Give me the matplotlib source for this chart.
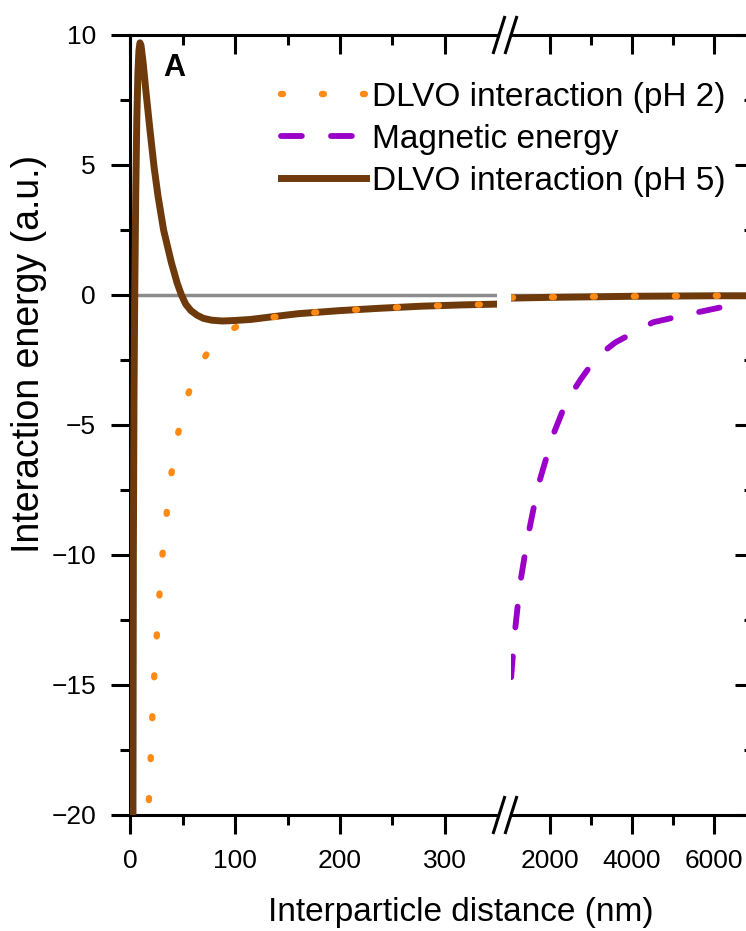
import matplotlib
matplotlib.use("Agg")
import matplotlib.pyplot as plt
from matplotlib.lines import Line2D
from matplotlib.ticker import FixedLocator

plt.rcParams['font.family'] = ['Liberation Sans', 'DejaVu Sans']
plt.rcParams['lines.scale_dashes'] = False

# ---- data -------------------------------------------------------------
# DLVO interaction at pH 5 (short-range segment, nm)
ph5_near_nm = [2.8, 3.2, 3.8, 4.5, 5.5, 6.5, 7.5, 8.5, 9.5, 10.5, 12.6, 15, 19,
               23, 26.7, 32, 39.5, 45, 49, 53, 58, 64, 70, 78, 88, 100, 115,
               135, 160, 200, 238, 278, 317, 350]
ph5_near_e = [-20.5, -10, -4, 0, 4, 6.8, 8.5, 9.4, 9.7, 9.6, 8.9, 7.9, 6.35,
              4.9, 3.8, 2.5, 1.23, 0.45, 0.0, -0.35, -0.6, -0.78, -0.9, -0.97,
              -1.0, -0.98, -0.94, -0.84, -0.72, -0.6, -0.51, -0.43, -0.38,
              -0.35]
# DLVO interaction at pH 2 (short-range segment, nm)
ph2_near_nm = [16.5, 17.5, 19, 20.6, 22.2, 24.4, 27, 29.5, 33.3, 37.5, 42.9,
               50.8, 63.5, 75, 84.1, 100, 115, 135, 160, 200, 238, 278, 317,
               350]
ph2_near_e = [-21.0, -19.9, -18.5, -16.9, -15.3, -13.75, -12.2, -10.6, -9.0,
              -7.43, -5.9, -4.36, -2.86, -2.15, -1.70, -1.25, -1.0, -0.86,
              -0.72, -0.6, -0.51, -0.43, -0.38, -0.35]
# long-range segment (nm)
far_nm = [1045, 2000, 3000, 4000, 5000, 6000, 7000]
ph5_far_e = [-0.12, -0.09, -0.07, -0.05, -0.04, -0.03, -0.03]
ph2_far_e = [-0.10, -0.08, -0.06, -0.05, -0.04, -0.03, -0.03]
# magnetic dipole energy (long-range segment)
mag_nm = [1049, 1130, 1268, 1456, 1715, 2080, 2400, 2748, 3150, 3602, 4520,
          5300, 5985, 6470]
mag_e = [-14.7, -13.1, -11.1, -9.3, -7.3, -5.36, -4.1, -3.25, -2.37, -1.82,
         -1.05, -0.77, -0.54, -0.38]

labels = ["DLVO interaction (pH 2)", "Magnetic energy", "DLVO interaction (pH 5)"]
xticks_near = [0, 100, 200, 300]
xticks_near_minor = [50, 150, 250]
xticks_far = [2000, 4000, 6000]
xticks_far_minor = [3000, 5000]
yticks = [-20, -15, -10, -5, 0, 5, 10]
yticks_minor = [-17.5, -12.5, -7.5, -2.5, 2.5, 7.5]

# ---- styling ------------------------------------------------------------
W, H = 746, 931
BROWN = "#6f3a0b"
ORANGE = "#ff8a14"
PURPLE = "#9a00c8"
GRAY = "#8c8c8c"
SPINE_W = 2.2
MAJ_L, MIN_L = 14.0, 7.0


def fx(px):
    return px / W


def fy(py):
    return 1 - py / H


fig = plt.figure(figsize=(W / 100, H / 100), dpi=100)
bottom, top = 815, 35
axL = fig.add_axes([fx(130), fy(bottom), (497.5 - 130) / W, (bottom - top) / H])
axR = fig.add_axes([fx(511), fy(bottom), (754.4 - 511) / W, (bottom - top) / H],
                   sharey=axL)

axL.set_xlim(0, 350)
axR.set_xlim(1045, 7000)
axL.set_ylim(-20, 10)

for ax in (axL, axR):
    ax.axhline(0, color=GRAY, lw=2.5, zorder=1)

# curves
lw_brown = 5.0
axL.plot(ph5_near_nm, ph5_near_e, color=BROWN, lw=lw_brown, zorder=3,
         solid_capstyle='butt', solid_joinstyle='round')
axR.plot(far_nm, ph5_far_e, color=BROWN, lw=lw_brown, zorder=3)

dot_style = dict(color=ORANGE, lw=4.6, linestyle=(0, (1.4, 28.1)),
                 dash_capstyle='round', zorder=4)
axL.plot(ph2_near_nm, ph2_near_e, **dot_style)
axR.plot(far_nm, ph2_far_e, **dot_style)

dash_style = dict(color=PURPLE, lw=4.2, linestyle=(0, (15, 21)),
                  dash_capstyle='round', zorder=4)
axR.plot(mag_nm, mag_e, **dash_style)

# ---- axes, spines, ticks ----------------------------------------------
axL.spines['right'].set_visible(False)
axR.spines['left'].set_visible(False)
for ax in (axL, axR):
    ax.spines['top'].set_visible(False)
    for s in ax.spines.values():
        s.set_linewidth(SPINE_W)

axL.set_xticks(xticks_near)
axL.xaxis.set_minor_locator(FixedLocator(xticks_near_minor))
axR.set_xticks(xticks_far)
axR.xaxis.set_minor_locator(FixedLocator(xticks_far_minor))
axL.set_yticks(yticks)
axL.yaxis.set_minor_locator(FixedLocator(yticks_minor))

for ax in (axL, axR):
    ax.tick_params(which='major', direction='out', length=MAJ_L, width=SPINE_W,
                   labelsize=19, pad=10.5)
    ax.tick_params(which='minor', direction='out', length=MIN_L, width=SPINE_W)
axR.tick_params(axis='y', which='both', left=False, labelleft=False)

# inward ticks on the top edge of both panels
for ax, maj, mnr in ((axL, xticks_near, xticks_near_minor),
                     (axR, xticks_far, xticks_far_minor)):
    sec = ax.secondary_xaxis('top')
    sec.set_xticks(maj)
    sec.xaxis.set_minor_locator(FixedLocator(mnr))
    sec.tick_params(which='major', direction='in', length=MAJ_L, width=SPINE_W,
                    labeltop=False)
    sec.tick_params(which='minor', direction='in', length=MIN_L, width=SPINE_W)
    sec.spines['top'].set_linewidth(SPINE_W)

# inward ticks on the right edge
secy = axR.secondary_yaxis('right')
secy.set_yticks(yticks)
secy.yaxis.set_minor_locator(FixedLocator(yticks_minor))
secy.tick_params(which='major', direction='in', length=MAJ_L, width=SPINE_W,
                 labelright=False)
secy.tick_params(which='minor', direction='in', length=MIN_L, width=SPINE_W)
secy.spines['right'].set_linewidth(SPINE_W)

# axis break marks "//"
for yc in (top, bottom):
    for x0 in (493, 505):
        fig.add_artist(Line2D([fx(x0), fx(x0 + 12)], [fy(yc + 19), fy(yc - 19)],
                              transform=fig.transFigure, color='black',
                              lw=SPINE_W, solid_capstyle='butt'))

# ---- labels ---------------------------------------------------------------
fig.text(fx(461), fy(912), "Interparticle distance (nm)", ha='center',
         va='center', fontsize=24)
fig.text(fx(29), fy(354), "Interaction energy (a.u.)", ha='center',
         va='center', rotation=90, fontsize=27)
fig.text(fx(174), fy(68), "A", ha='center', va='center', fontsize=22,
         fontweight='bold')

# legend
handles = [Line2D([], [], **dot_style),
           Line2D([], [], **dash_style),
           Line2D([], [], color=BROWN, lw=lw_brown)]
fig.legend(handles, labels, loc='upper left',
           bbox_to_anchor=(fx(281), fy(82)), frameon=False, fontsize=24,
           handlelength=2.55, handletextpad=0.18, labelspacing=0.33,
           borderpad=0, borderaxespad=0)

fig.savefig("out.png", dpi=100)
